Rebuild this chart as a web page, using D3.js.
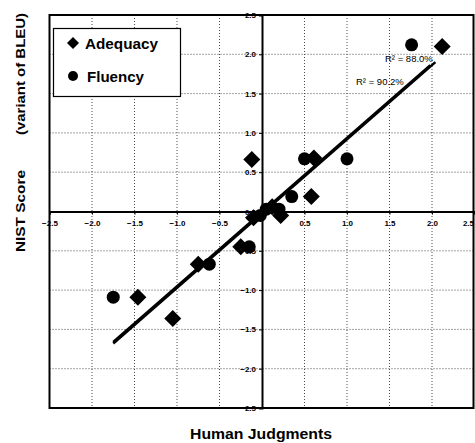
<!DOCTYPE html>
<html>
<head>
<meta charset="utf-8">
<script src="https://cdn.jsdelivr.net/npm/d3@7"></script>
<style>
  html, body { margin: 0; padding: 0; background: #fff; }
  svg { display: block; font-family: "Liberation Sans", Arial, sans-serif; }
</style>
</head>
<body>
<svg width="475" height="443"></svg>
<script>
// values
const adequacyX = [-1.46, -1.05, -0.75, -0.25, -0.10, 0.12, 0.22, 0.58, 0.61, -0.12, 2.12];
const adequacyY = [-1.09, -1.36, -0.67, -0.45, -0.08, 0.06, -0.05, 0.19, 0.68, 0.66, 2.10];
const fluencyX = [-1.75, -0.62, -0.15, -0.02, 0.05, 0.20, 0.35, 0.50, 1.00, 1.76];
const fluencyY = [-1.09, -0.67, -0.45, -0.05, 0.03, 0.03, 0.19, 0.67, 0.67, 2.12];
const trendAdequacyX = [-1.75, 2.04];
const trendAdequacyY = [-1.68, 1.90];
const trendFluencyX = [-1.75, 1.98];
const trendFluencyY = [-1.66, 1.86];
const tickValues = [-2.5, -2.0, -1.5, -1.0, -0.5, 0.0, 0.5, 1.0, 1.5, 2.0, 2.5];
const gridValues = [-2.0, -1.5, -1.0, -0.5, 0.5, 1.0, 1.5, 2.0];
const seriesNames = ["Adequacy", "Fluency"];
const r2Labels = ["R\u00b2 = 88.0%", "R\u00b2 = 90.2%"];

const svg = d3.select("svg");
const x = d3.scaleLinear([-2.5, 2.5], [49.5, 474.5]);
const y = d3.scaleLinear([-2.5, 2.5], [408, 15]);

//grid
const grid = svg.append("g").attr("stroke", "#000").attr("stroke-width", 1)
  .attr("stroke-dasharray", "1,2").attr("opacity", 0.7);
grid.selectAll(".gv").data(gridValues).join("line")
  .attr("x1", d => x(d)).attr("x2", d => x(d)).attr("y1", y(2.5)).attr("y2", y(-2.5));
grid.selectAll(".gh").data(gridValues).join("line")
  .attr("x1", x(-2.5)).attr("x2", x(2.5)).attr("y1", d => y(d)).attr("y2", d => y(d));

//frame
svg.append("rect")
  .attr("x", x(-2.5)).attr("y", y(2.5))
  .attr("width", x(2.5) - x(-2.5) - 1).attr("height", y(-2.5) - y(2.5))
  .attr("fill", "none").attr("stroke", "#000").attr("stroke-width", 2);

//axes through origin
const xAxis = svg.append("g").attr("transform", `translate(0,${y(0)})`)
  .call(d3.axisBottom(x).tickValues(tickValues.filter(d => d !== 0)).tickSize(3).tickFormat(d3.format(".1f")));
const yAxis = svg.append("g").attr("transform", `translate(${x(0)},0)`)
  .call(d3.axisLeft(y).tickValues(tickValues).tickSize(3).tickFormat(d3.format(".1f")));
[xAxis, yAxis].forEach(g => {
  g.select(".domain").attr("stroke-width", 2);
  g.selectAll("text").attr("font-size", 8).attr("font-weight", "bold")
    .attr("font-family", "'Liberation Sans', Arial, sans-serif");
});
xAxis.selectAll("text").attr("dy", "1.1em");
// last label would be cut by the window edge
xAxis.selectAll(".tick").filter(d => d === 2.5).select("text").attr("text-anchor", "end").attr("x", -1);

//trend lines
const line = d3.line(d => x(d[0]), d => y(d[1]));
svg.append("path").datum(d3.zip(trendAdequacyX, trendAdequacyY))
  .attr("d", line).attr("stroke", "#000").attr("stroke-width", 2.5).attr("fill", "none");
svg.append("path").datum(d3.zip(trendFluencyX, trendFluencyY))
  .attr("d", line).attr("stroke", "#000").attr("stroke-width", 2.5).attr("fill", "none");

const diamond = (cx, cy, h) => `M${cx},${cy - h}L${cx + h},${cy}L${cx},${cy + h}L${cx - h},${cy}Z`;

//points
svg.append("g").selectAll("circle").data(d3.zip(fluencyX, fluencyY)).join("circle")
  .attr("cx", d => x(d[0])).attr("cy", d => y(d[1])).attr("r", 6.5).attr("fill", "#000");
svg.append("g").selectAll("path").data(d3.zip(adequacyX, adequacyY)).join("path")
  .attr("d", d => diamond(x(d[0]), y(d[1]), 8.5)).attr("fill", "#000");

//r2 labels
svg.append("text").attr("x", 385).attr("y", 62).attr("font-size", 9.5).text(r2Labels[0]);
svg.append("text").attr("x", 356).attr("y", 85).attr("font-size", 9.5).text(r2Labels[1]);

//legend
svg.append("rect").attr("x", 53.5).attr("y", 28.5).attr("width", 127).attr("height", 68)
  .attr("fill", "#fff").attr("stroke", "#000").attr("stroke-width", 1.2);
svg.append("path").attr("d", diamond(73, 43, 6)).attr("fill", "#000");
svg.append("circle").attr("cx", 73).attr("cy", 76).attr("r", 5).attr("fill", "#000");
svg.append("text").attr("x", 85).attr("y", 48.5).attr("font-size", 15).attr("font-weight", "bold")
  .attr("textLength", 73).attr("lengthAdjust", "spacingAndGlyphs").text(seriesNames[0]);
svg.append("text").attr("x", 87).attr("y", 81.5).attr("font-size", 15).attr("font-weight", "bold")
  .attr("textLength", 57).attr("lengthAdjust", "spacingAndGlyphs").text(seriesNames[1]);

//axis titles
svg.append("text").attr("x", 261).attr("y", 439).attr("text-anchor", "middle")
  .attr("font-size", 14).attr("font-weight", "bold").attr("textLength", 142)
  .attr("lengthAdjust", "spacingAndGlyphs").text("Human Judgments");
svg.append("text").attr("transform", "translate(25,252) rotate(-90)")
  .attr("font-size", 12).attr("font-weight", "bold").attr("textLength", 82)
  .attr("lengthAdjust", "spacingAndGlyphs").text("NIST Score");
svg.append("text").attr("transform", "translate(25,135) rotate(-90)")
  .attr("font-size", 12).attr("font-weight", "bold").attr("textLength", 122)
  .attr("lengthAdjust", "spacingAndGlyphs").text("(variant of BLEU)");
</script>
</body>
</html>
